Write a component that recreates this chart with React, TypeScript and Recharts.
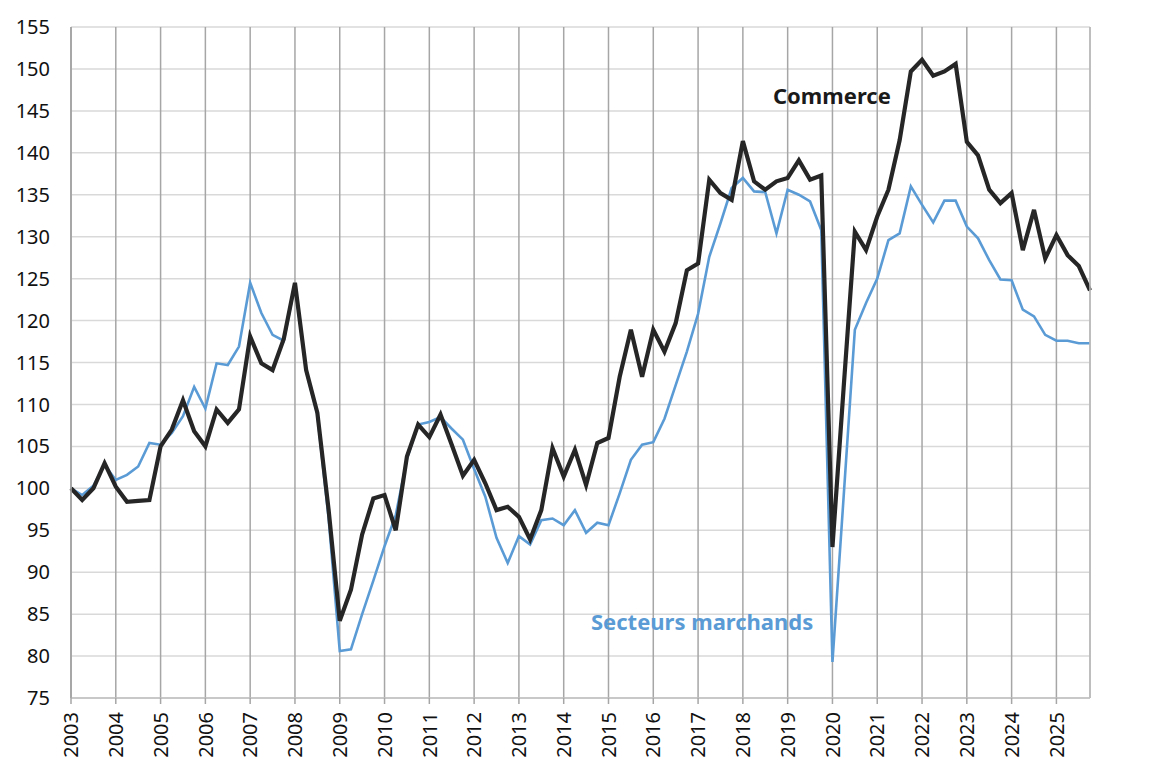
import React from 'react';
import { LineChart, Line, XAxis, YAxis, CartesianGrid } from 'recharts';

const years = [
  2003, 2004, 2005, 2006, 2007, 2008, 2009, 2010, 2011, 2012, 2013, 2014,
  2015, 2016, 2017, 2018, 2019, 2020, 2021, 2022, 2023, 2024, 2025,
];
const quarterNames = ['T1', 'T2', 'T3', 'T4'];

const commerce = [
  100.0, 98.6, 100.0, 103.0, 100.2, 98.4, 98.5, 98.6,
  105.0, 107.0, 110.5, 106.8, 105.0, 109.4, 107.8, 109.4,
  118.1, 114.9, 114.1, 117.8, 124.5, 114.1, 109.0, 97.5,
  84.2, 87.9, 94.5, 98.8, 99.2, 95.0, 103.8, 107.6,
  106.1, 108.8, 105.2, 101.5, 103.4, 100.6, 97.4, 97.8,
  96.6, 93.9, 97.4, 104.8, 101.4, 104.6, 100.4, 105.4,
  106.0, 113.3, 118.9, 113.3, 118.9, 116.3, 119.7, 126.0,
  126.8, 136.8, 135.2, 134.4, 141.4, 136.6, 135.6, 136.6,
  137.0, 139.1, 136.8, 137.3, 93.0, 112.0, 130.6, 128.4,
  132.4, 135.6, 141.5, 149.7, 151.1, 149.2, 149.7, 150.6,
  141.3, 139.7, 135.6, 134.0, 135.2, 128.4, 133.2, 127.4,
  130.2, 127.8, 126.5, 123.6,
];

const secteursMarchands = [
  100.0, 99.2, 100.3, 102.8, 101.0, 101.6, 102.6, 105.4,
  105.2, 106.6, 108.6, 112.1, 109.5, 114.9, 114.7, 116.9,
  124.5, 120.9, 118.3, 117.6, 124.3, 114.0, 108.8, 96.5,
  80.6, 80.8, 85.0, 89.0, 93.1, 96.8, 103.5, 107.6,
  107.9, 108.5, 107.1, 105.8, 102.3, 99.0, 94.1, 91.1,
  94.3, 93.3, 96.2, 96.4, 95.6, 97.4, 94.7, 95.9,
  95.6, 99.4, 103.4, 105.2, 105.5, 108.3, 112.3, 116.3,
  120.8, 127.6, 131.6, 135.8, 137.0, 135.4, 135.3, 130.4,
  135.6, 135.0, 134.2, 130.8, 79.3, 99.0, 118.9, 122.1,
  125.0, 129.6, 130.4, 136.0, 133.8, 131.7, 134.3, 134.3,
  131.2, 129.8, 127.2, 124.9, 124.8, 121.3, 120.5, 118.3,
  117.6, 117.6, 117.3, 117.3,
];

const yTicks = [75, 80, 85, 90, 95, 100, 105, 110, 115, 120, 125, 130, 135, 140, 145, 150, 155];

const quarters = years.flatMap((y) => quarterNames.map((q) => `${y}${q}`));
const yearTicks = years.map((y) => `${y}T1`);

const data = quarters.map((q, i) => ({
  q,
  commerce: commerce[i],
  marchands: secteursMarchands[i],
}));

const FONT = '"Noto Sans", sans-serif';

const YearTick = (props: any) => {
  const { x, y, payload } = props;
  return (
    <g transform={`translate(${x},${y})`}>
      <text
        transform="rotate(-90)"
        textAnchor="end"
        dy="0.36em"
        fill="#111"
        fontSize={20}
        fontFamily={FONT}
      >
        {String(payload.value).slice(0, 4)}
      </text>
    </g>
  );
};

const tickStyle = { fill: '#111', fontSize: 20, fontFamily: FONT };

export default function App() {
  return (
    <div style={{ position: 'absolute', left: 0, top: 0, width: 1153, height: 760, background: '#fff' }}>
      <LineChart width={1153} height={760} data={data} margin={{ top: 27, right: 0, bottom: 0, left: 0 }}>
        <CartesianGrid yAxisId="l" vertical={false} stroke="#d9d9d9" strokeWidth={1.5} />
        <CartesianGrid yAxisId="l" horizontal={false} stroke="#a6a6a6" strokeWidth={1.5} />
        <XAxis
          dataKey="q"
          ticks={yearTicks}
          interval={0}
          height={62}
          tick={<YearTick />}
          tickSize={6}
          tickMargin={8}
          tickLine={{ stroke: '#a6a6a6', strokeWidth: 1.5 }}
          axisLine={{ stroke: '#bfbfbf', strokeWidth: 1.5 }}
        />
        <YAxis
          yAxisId="l"
          width={71}
          domain={[75, 155]}
          ticks={yTicks}
          interval={0}
          tickSize={0}
          tickMargin={21}
          tick={tickStyle}
          axisLine={{ stroke: '#a6a6a6', strokeWidth: 1.5 }}
        />
        <YAxis
          yAxisId="r"
          orientation="right"
          width={63}
          domain={[75, 155]}
          ticks={yTicks}
          interval={0}
          tickSize={0}
          tickMargin={20}
          tick={tickStyle}
          axisLine={{ stroke: '#bfbfbf', strokeWidth: 1.5 }}
        />
        <Line
          yAxisId="l"
          type="linear"
          dataKey="marchands"
          stroke="#5b9bd5"
          strokeWidth={2.6}
          dot={false}
          isAnimationActive={false}
        />
        <Line
          yAxisId="l"
          type="linear"
          dataKey="commerce"
          stroke="#262626"
          strokeWidth={4.2}
          dot={false}
          isAnimationActive={false}
        />
      </LineChart>
      <div
        style={{
          position: 'absolute', left: 773, top: 80, fontFamily: FONT, fontWeight: 700,
          fontSize: 22, lineHeight: '30px', color: '#1a1a1a', whiteSpace: 'nowrap',
        }}
      >
        Commerce
      </div>
      <div
        style={{
          position: 'absolute', left: 591, top: 606, fontFamily: FONT, fontWeight: 700,
          fontSize: 22, lineHeight: '30px', color: '#5b9bd5', whiteSpace: 'nowrap',
        }}
      >
        Secteurs marchands
      </div>
    </div>
  );
}
